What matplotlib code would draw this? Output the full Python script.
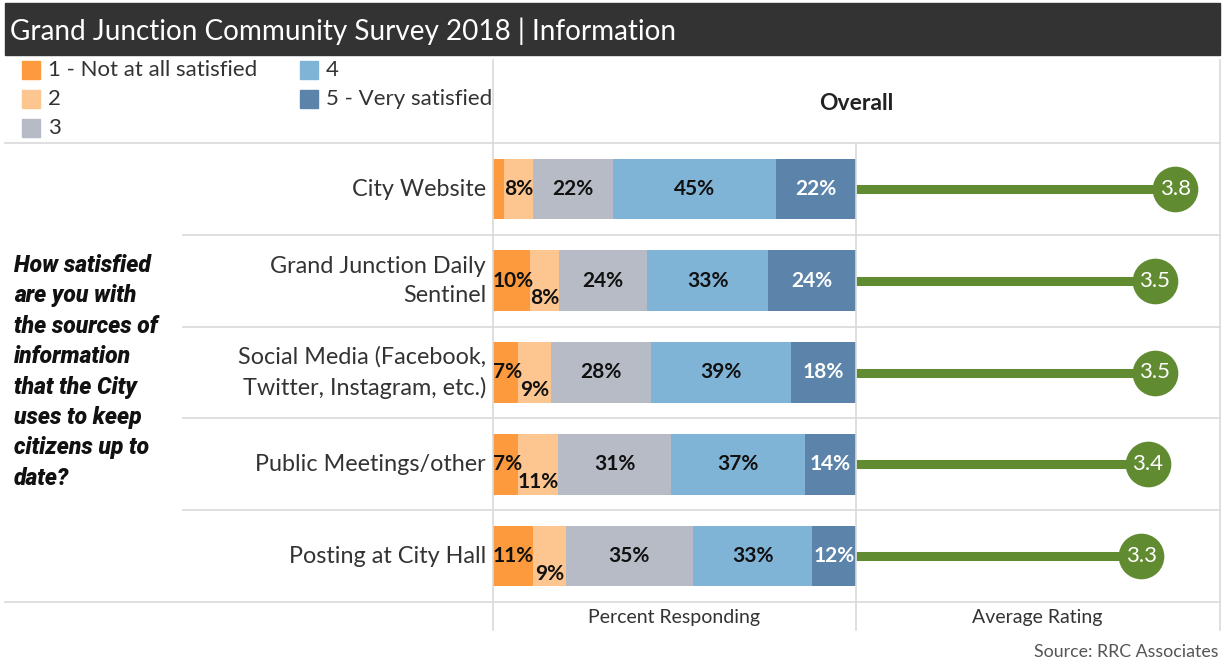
import matplotlib.pyplot as plt
from matplotlib.patches import Rectangle
from matplotlib.lines import Line2D

# data
items = ['City Website', 'Grand Junction Daily\nSentinel',
         'Social Media (Facebook,\nTwitter, Instagram, etc.)',
         'Public Meetings/other', 'Posting at City Hall']
levels = ['1 - Not at all satisfied', '2', '3', '4', '5 - Very satisfied']
pct_1 = [3, 10, 7, 7, 11]
pct_2 = [8, 8, 9, 11, 9]
pct_3 = [22, 24, 28, 31, 35]
pct_4 = [45, 33, 39, 37, 33]
pct_5 = [22, 24, 18, 14, 12]
avg_rating = [3.8, 3.5, 3.5, 3.4, 3.3]

colors = ['#fc9a3d', '#fdc590', '#b6bbc5', '#80b4d7', '#5c83a9']
green = '#608b31'

W, H = 1225, 661
plt.rcParams['font.family'] = ['Lato', 'DejaVu Sans']
fig = plt.figure(figsize=(W / 100, H / 100), dpi=100)


def fx(px):
    return px / W


def fy(py):
    return 1 - py / H


def hline(y, x0, x1, c='#d9d9d9', lw=1.2):
    fig.add_artist(Line2D([fx(x0), fx(x1)], [fy(y), fy(y)], color=c, lw=lw))


def vline(x, y0, y1, c='#d9d9d9', lw=1.2):
    fig.add_artist(Line2D([fx(x), fx(x)], [fy(y0), fy(y1)], color=c, lw=lw))


# title band
fig.add_artist(Rectangle((fx(5), fy(55)), fx(1220) - fx(5), fy(3) - fy(55),
                         color='#333333', transform=fig.transFigure))
fig.text(fx(10), fy(31), 'Grand Junction Community Survey 2018 | Information',
         color='white', fontsize=20.1, va='center', ha='left')

# legend
leg_pos = [(22, 70), (22, 99), (22, 128), (300, 70), (300, 99)]
for (lx, ly), lab, c in zip(leg_pos, levels, colors):
    fig.add_artist(Rectangle((fx(lx), fy(ly + 9)), fx(18), 18 / H, color=c,
                             transform=fig.transFigure))
    fig.text(fx(lx + 26), fy(ly), lab, fontsize=16, color='#333333',
             va='center', ha='left')

fig.text(fx(856), fy(103), 'Overall', fontsize=16.5, fontweight='bold',
         color='#222222', ha='center', va='center')

# grid lines
hline(143, 5, 1220)
hline(602, 5, 1220)
for yy in [235, 327, 418, 510]:
    hline(yy, 183, 1220)
vline(493, 60, 630)
vline(856, 143, 630)
vline(1220, 60, 630)

# question text
fig.text(fx(14), fy(254),
         'How satisfied\nare you with\nthe sources of\ninformation\nthat the City\n'
         'uses to keep\ncitizens up to\ndate?',
         fontsize=16.5, fontweight='black', fontstyle='italic', color='#111111',
         family=['Roboto', 'DejaVu Sans'],
         va='top', ha='left', linespacing=1.41)

# bars
ax = fig.add_axes([fx(493), fy(602), fx(856) - fx(493), fy(143) - fy(602)])
ax.set_xlim(0, 100)
ax.set_ylim(4.5, -0.5)
ax.axis('off')

series = [pct_1, pct_2, pct_3, pct_4, pct_5]
for i in range(len(items)):
    vals = [s[i] for s in series]
    tot = sum(vals)
    left = 0
    for k, v in enumerate(vals):
        w = v / tot * 100
        ax.barh(i, w, left=left, height=0.66, color=colors[k], linewidth=0)
        tc = 'white' if k == 4 else '#111111'
        txt = f'{v}%'
        if k == 0:
            if v >= 5:
                ax.text(left, i, txt, ha='left', va='center', fontsize=15,
                        fontweight='bold', color=tc)
        elif k == 1 and vals[0] >= 5:
            ax.text(left + w / 2, i + 0.19, txt, ha='center', va='center',
                    fontsize=15, fontweight='bold', color=tc)
        else:
            ax.text(left + w / 2, i, txt, ha='center', va='center', fontsize=15,
                    fontweight='bold', color=tc)
        left += w
    fig.text(fx(486), fy(189 + i * 91.8), items[i], ha='right', va='center',
             fontsize=16.8, color='#333333', linespacing=1.5)

# average rating
ax2 = fig.add_axes([fx(856), fy(602), fx(1220) - fx(856), fy(143) - fy(602)])
ax2.set_xlim(-0.9, 4.46)
ax2.set_ylim(4.5, -0.5)
ax2.axis('off')
ypos = list(range(len(items)))
ax2.hlines(ypos, -0.9, avg_rating, color=green, lw=6.5)
ax2.scatter(avg_rating, ypos, s=1080, color=green, zorder=3, linewidths=0)
for y, r in zip(ypos, avg_rating):
    ax2.text(r, y, f'{r}', color='white', ha='center', va='center',
             fontsize=16, zorder=4)

fig.text(fx(674), fy(617), 'Percent Responding', fontsize=14, color='#333333',
         ha='center', va='center')
fig.text(fx(1037), fy(617), 'Average Rating', fontsize=14, color='#333333',
         ha='center', va='center')
fig.text(fx(1218), fy(652), 'Source: RRC Associates', fontsize=12.8,
         color='#555555', ha='right', va='center')

fig.savefig('out.png', dpi=100)
